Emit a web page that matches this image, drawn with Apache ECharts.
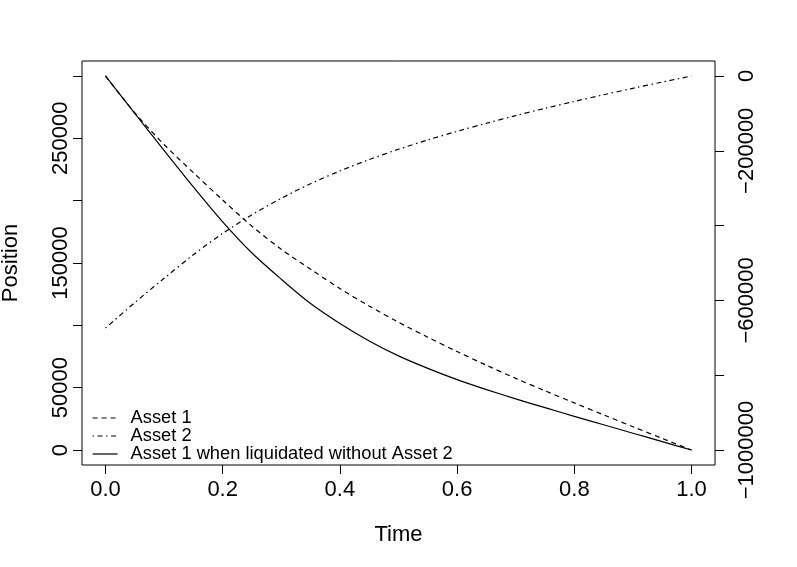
<!DOCTYPE html>
<html>
<head>
<meta charset="utf-8">
<script src="https://cdn.jsdelivr.net/npm/echarts@6/dist/echarts.min.js"></script>
<style>
html,body{margin:0;padding:0;background:#fff;}
#chart{width:797px;height:567px;}
</style>
</head>
<body>
<div id="chart"></div>
<script>
const times = [0, 0.05, 0.1, 0.15, 0.2, 0.25, 0.3, 0.35, 0.4, 0.45, 0.5, 0.55, 0.6, 0.65, 0.7, 0.75, 0.8, 0.85, 0.9, 0.95, 1.0];
const asset1 = [300000, 270500, 245000, 222500, 200500, 179500, 161000, 145000, 129500, 115500, 102500, 90500, 79000, 68000, 57500, 47500, 37800, 28200, 18700, 9300, 0];
const asset2 = [-674000, -606000, -541000, -478000, -421000, -371000, -327000, -288000, -254000, -223500, -196000, -171000, -148000, -126500, -106000, -86500, -68000, -50200, -33000, -16300, 0];
const asset1Alone = [300000, 270000, 240300, 211000, 183000, 158000, 137000, 117500, 101500, 87500, 75500, 65500, 56500, 48500, 41000, 34000, 27000, 20300, 13500, 6700, 0];
const seriesNames = ['Asset 1', 'Asset 2', 'Asset 1 when liquidated without Asset 2'];
const xTicks = [0, 0.2, 0.4, 0.6, 0.8, 1.0];
const leftTicks = [0, 50000, 100000, 150000, 200000, 250000, 300000];
const leftLabels = [0, 50000, 150000, 250000];
const rightTicks = [0, -200000, -400000, -600000, -800000, -1000000];
const rightLabels = [0, -200000, -600000, -1000000];

const pair = (vals) => times.map((t, i) => [t, vals[i]]);
const FONT = 'Liberation Sans, Arial, Helvetica, sans-serif';

const chart = echarts.init(document.getElementById('chart'), null, {renderer: 'canvas'});
const tickStyle = {show: true, inside: false, length: 9, lineStyle: {color: '#000', width: 1}};
chart.setOption({
  animation: false,
  backgroundColor: '#fff',
  grid: {left: 82, right: 82, top: 61, bottom: 102, containLabel: false, outerBoundsMode: 'none',
    show: true, borderColor: '#000', borderWidth: 1, backgroundColor: 'transparent'},
  legend: {
    orient: 'vertical', left: 87, top: 404, itemGap: 0, itemWidth: 25, itemHeight: 18,
    data: seriesNames,
    itemStyle: {opacity: 0},
    lineStyle: {width: 1.2},
    textStyle: {fontFamily: FONT, fontSize: 18.3, color: '#000', lineHeight: 18, padding: [0, 0, 0, 8]},
    selectedMode: false
  },
  xAxis: {
    type: 'value', min: -0.04, max: 1.04,
    name: 'Time', nameLocation: 'middle', nameGap: 59,
    nameTextStyle: {fontFamily: FONT, fontSize: 22, color: '#000'},
    axisLine: {show: false, onZero: false},
    splitLine: {show: false},
    axisTick: Object.assign({customValues: xTicks}, tickStyle),
    axisLabel: {customValues: xTicks, fontFamily: FONT, fontSize: 22, color: '#000', margin: 14,
      formatter: v => Number(v).toFixed(1)}
  },
  yAxis: [{
    type: 'value', min: -12000, max: 312000, position: 'left',
    name: 'Position', nameLocation: 'middle', nameGap: 60,
    nameTextStyle: {fontFamily: FONT, fontSize: 22, color: '#000'},
    axisLine: {show: false, onZero: false},
    splitLine: {show: false},
    axisTick: Object.assign({customValues: leftTicks}, tickStyle),
    axisLabel: {customValues: leftLabels, rotate: 90, fontFamily: FONT, fontSize: 22, color: '#000', margin: 10,
      formatter: v => String(v)}
  }, {
    type: 'value', min: -1040000, max: 40000, position: 'right',
    axisLine: {show: false, onZero: false},
    splitLine: {show: false},
    axisTick: Object.assign({customValues: rightTicks}, tickStyle),
    axisLabel: {customValues: rightLabels, rotate: 90, fontFamily: FONT, fontSize: 22, color: '#000', margin: 21,
      formatter: v => String(v).replace('-', '\u2212')}
  }],
  series: [{
    name: seriesNames[0], type: 'line', yAxisIndex: 0, data: pair(asset1), smooth: 0.3,
    symbol: 'none', lineStyle: {color: '#000', width: 1.2, type: [5, 4]}, itemStyle: {color: '#000'}
  }, {
    name: seriesNames[1], type: 'line', yAxisIndex: 1, data: pair(asset2), smooth: 0.3,
    symbol: 'none', lineStyle: {color: '#000', width: 1.2, type: [1.5, 3.5, 5, 3.5]}, itemStyle: {color: '#000'}
  }, {
    name: seriesNames[2], type: 'line', yAxisIndex: 0, data: pair(asset1Alone), smooth: 0.3,
    symbol: 'none', lineStyle: {color: '#000', width: 1.2, type: 'solid'}, itemStyle: {color: '#000'}
  }]
});
</script>
</body>
</html>
